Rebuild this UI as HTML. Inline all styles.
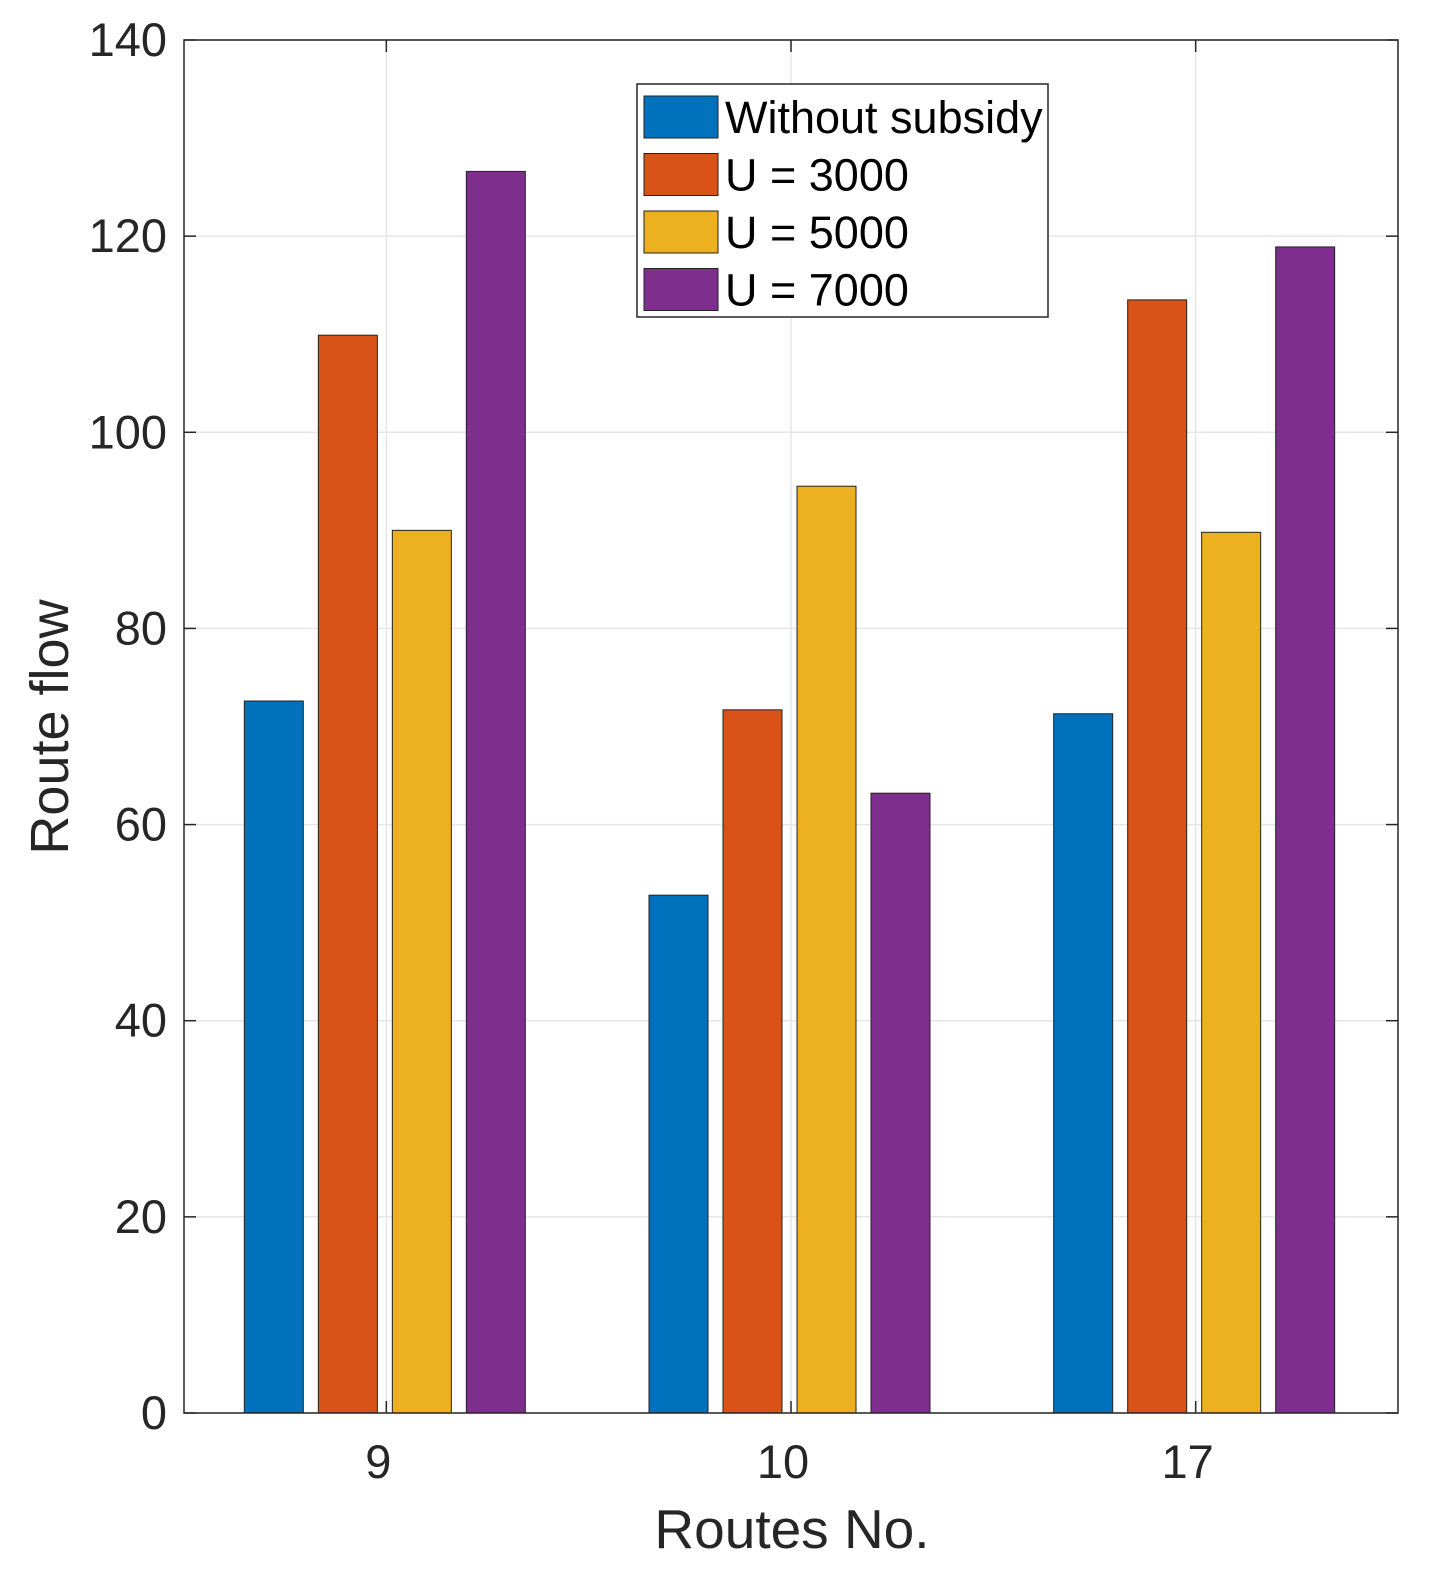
<!DOCTYPE html>
<html><head><meta charset="utf-8"><style>
body{margin:0;background:#fff}
svg{display:block;font-family:"Liberation Sans",Arial,sans-serif}
</style></head><body>
<svg id="chart" width="1444" height="1586" viewBox="0 0 1444 1586">
<g id="grid"></g><g id="bars"></g><g id="axes"></g><g id="legend"></g>
</svg>
<script>
const categories = ["9","10","17"];
const seriesNames = ["Without subsidy","U = 3000","U = 5000","U = 7000"];
const withoutSubsidy = [72.6, 52.8, 71.3];
const u3000 = [109.9, 71.7, 113.5];
const u5000 = [90.0, 94.5, 89.8];
const u7000 = [126.6, 63.2, 118.9];
const yTicks = [0,20,40,60,80,100,120,140];
const colors = ["#0072BD","#D95319","#EDB120","#7E2F8E"];
const series = [withoutSubsidy,u3000,u5000,u7000];

const NS="http://www.w3.org/2000/svg";
const L=184,R=1398,T=40,B=1413;
function y(v){return B-(v-0)/(140-0)*(B-T);}
function xc(i){return L+(i+0.5)*(R-L)/categories.length;}
function mk(tag,attrs,parent,text){const e=document.createElementNS(NS,tag);for(const k in attrs)e.setAttribute(k,attrs[k]);if(text!==undefined)e.textContent=text;parent.appendChild(e);return e;}
const grid=document.getElementById('grid'),bars=document.getElementById('bars'),axes=document.getElementById('axes'),leg=document.getElementById('legend');

yTicks.forEach(t=>{
  const g=mk('line',{x1:L,x2:R,y1:y(t),y2:y(t),stroke:'#e6e6e6','stroke-width':1.5},grid);
  
  
  mk('line',{x1:L,x2:L+12,y1:y(t),y2:y(t),stroke:'#262626','stroke-width':1.5},axes);
  mk('line',{x1:R,x2:R-12,y1:y(t),y2:y(t),stroke:'#262626','stroke-width':1.5},axes);
  const lb=mk('text',{x:167,y:y(t)+16,'text-anchor':'end','font-size':47,fill:'#262626'},axes,String(t));
  
  
});
categories.forEach((c,i)=>{
  const gl=mk('line',{x1:xc(i),x2:xc(i),y1:T,y2:B,stroke:'#e6e6e6','stroke-width':1.5},grid);
  
  
  mk('line',{x1:xc(i),x2:xc(i),y1:B,y2:B-12,stroke:'#262626','stroke-width':1.5},axes);
  mk('line',{x1:xc(i),x2:xc(i),y1:T,y2:T+12,stroke:'#262626','stroke-width':1.5},axes);
  const lb=mk('text',{x:xc(i)-8,y:1478,'text-anchor':'middle','font-size':47,fill:'#262626'},axes,c);
  
  
  series.forEach((s,j)=>{
    const bx=xc(i)-142+j*74;
    const r=mk('rect',{x:bx,y:y(s[i]),width:59,height:B-y(s[i]),fill:colors[j],stroke:'#222','stroke-width':1},bars);
    
    
  });
});
const frame=mk('rect',{x:L,y:T,width:R-L,height:B-T,fill:'none',stroke:'#262626','stroke-width':1.5},axes);


const xt=mk('text',{x:792,y:1548,'text-anchor':'middle','font-size':55,fill:'#262626'},axes,'Routes No.');


const yt=mk('text',{x:0,y:0,transform:'translate(68,727) rotate(-90)','text-anchor':'middle','font-size':54,fill:'#262626'},axes,'Route flow');



const lb=mk('rect',{x:637,y:84,width:411,height:233,fill:'#fff',stroke:'#262626','stroke-width':1.5},leg);


seriesNames.forEach((n,j)=>{
  const cy=117+j*57.5;
  const sw=mk('rect',{x:644,y:cy-21,width:74,height:42,fill:colors[j],stroke:'#222','stroke-width':1},leg);
  
  
  const t=mk('text',{x:725,y:cy+16,'font-size':45,fill:'#000'},leg,n);
  
  
});
</script>
</body></html>
